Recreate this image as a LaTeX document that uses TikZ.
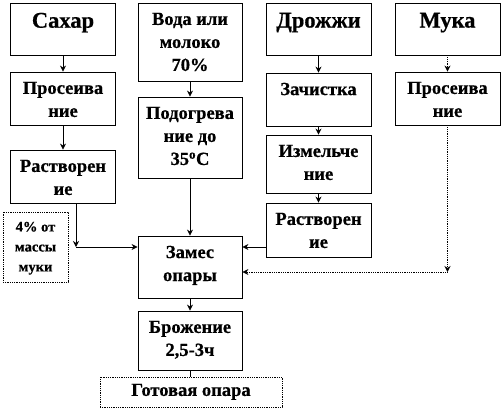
\documentclass[tikz,border=0pt]{standalone}
\usepackage{fontspec}
\setmainfont{Liberation Serif}[BoldFeatures={FakeBold=0.6}]
\usetikzlibrary{arrows.meta}

\begin{document}
\begin{tikzpicture}[
    x=1pt, y=-1pt,
    box/.style={draw, line width=0.8pt, inner sep=0pt, minimum width=105pt},
    dbox/.style={box, densely dotted},
    txt/.style={anchor=north, align=center, inner sep=0pt, yshift=-10pt, font=\bfseries\fontsize{18.5}{23}\selectfont},
    ttl/.style={txt, font=\bfseries\fontsize{22.5}{25}\selectfont},
    sml/.style={txt, font=\bfseries\fontsize{14.5}{20}\selectfont},
    arr/.style={-{Stealth[length=6pt,width=6pt]}, line width=0.8pt},
    darr/.style={arr, densely dotted},
]
\useasboundingbox (0,0) rectangle (504,410);
% sugar column
\node[box, minimum height=52pt, label={[ttl]north:Сахар}] (sugar) at (63,29) {};
\node[box, minimum height=53pt, label={[txt]north:{Просеива\\ние}}] (siftL) at (63,98.5) {};
\node[box, minimum height=53pt, label={[txt]north:{Растворен\\ие}}] (dissL) at (63,176.5) {};
\node[dbox, minimum width=65pt, minimum height=70pt, label={[sml]north:{4\% от\\массы\\муки}}] (pct) at (35.5,247) {};
% water column
\node[box, minimum width=104pt, minimum height=78pt, label={[txt]north:{Вода или\\молоко\\70\%}}] (water) at (190,42) {};
\node[box, minimum width=104pt, minimum height=81pt, label={[txt]north:{Подогрева\\ние до\\35\textsuperscript{o}C}}] (heat) at (190,137.5) {};
% yeast column
\node[box, minimum height=52pt, label={[ttl]north:Дрожжи}] (yeast) at (318.5,29) {};
\node[box, minimum height=53pt, label={[txt]north:Зачистка}] (clean) at (318.5,99.5) {};
\node[box, minimum height=58pt, label={[txt]north:{Измельче\\ние}}] (chop) at (318.5,164) {};
\node[box, minimum height=54pt, label={[txt]north:{Растворен\\ие}}] (dissR) at (318.5,230) {};
% flour column
\node[box, minimum height=52pt, label={[ttl]north:Мука}] (flour) at (447.5,29) {};
\node[box, minimum height=53pt, label={[txt]north:{Просеива\\ние}}] (siftR) at (447.5,98.5) {};
% dough
\node[box, minimum width=104pt, minimum height=62pt, label={[txt]north:{Замес\\опары}}] (mix) at (190,267) {};
\node[box, minimum width=104pt, minimum height=59pt, label={[txt]north:{Брожение\\2,5-3ч}}] (ferm) at (190,340.5) {};
\node[dbox, minimum width=182pt, minimum height=30pt, label={[txt, yshift=3pt]north:{Готовая опара}}] (ready) at (191,392) {};
\coordinate (jL) at (76,247);
\coordinate (jR) at (447.5,272);
% arrows
\draw[arr] (sugar) -- (siftL);
\draw[arr] (siftL) -- (dissL);
\draw[arr] (dissL.south -| jL) -- (jL);
\draw[arr] (jL) -- (jL -| mix.west);
\draw[arr] (water) -- (heat);
\draw[arr] (heat) -- (mix);
\draw[arr] (yeast) -- (clean);
\draw[arr] (clean) -- (chop);
\draw[arr] (chop) -- (dissR);
\draw[arr] (dissR.west |- jL) -- (jL -| mix.east);
\draw[darr] (flour) -- (siftR);
\draw[darr] (siftR) -- (jR);
\draw[darr] (jR) -- (jR -| mix.east);
\draw[arr] (mix) -- (ferm);
\draw[line width=0.8pt] (ferm.south) -- (ferm.south |- ready.north);
\end{tikzpicture}
\end{document}
